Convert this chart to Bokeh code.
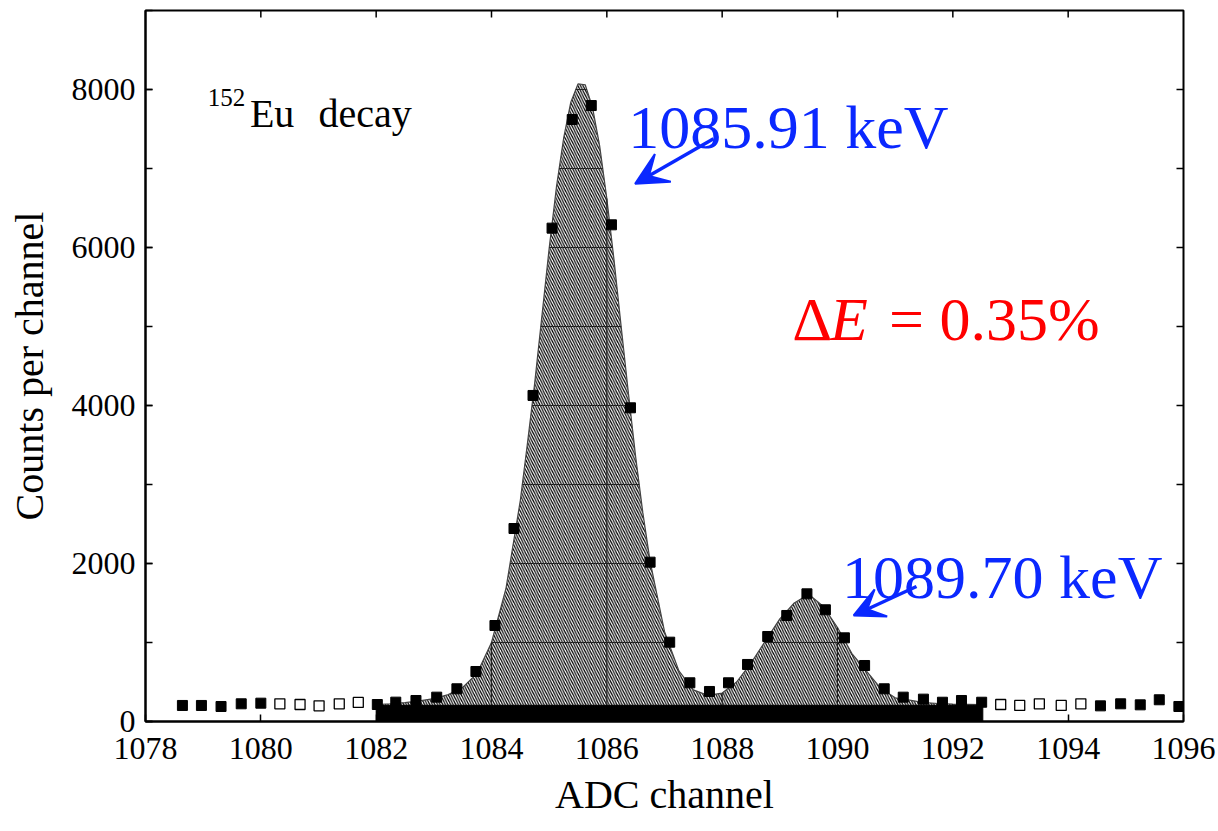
import numpy as np
from bokeh.plotting import figure
from bokeh.models import Range1d, SingleIntervalTicker, Label, Arrow, VeeHead
from bokeh.embed import file_html
from bokeh.resources import INLINE

# ---------------- data ----------------
x_limits = [1078, 1096]
y_limits = [0, 9000]

filled_x = [1078.64, 1078.97, 1079.31, 1079.66, 1080.00, 1082.02, 1082.34, 1082.69, 1083.05,
            1083.40, 1083.73, 1084.06, 1084.39, 1084.72, 1085.05, 1085.40, 1085.73, 1086.08,
            1086.41, 1086.75, 1087.09, 1087.44, 1087.78, 1088.11, 1088.44, 1088.79, 1089.12,
            1089.47, 1089.79, 1090.12, 1090.47, 1090.81, 1091.14, 1091.49, 1091.82, 1092.15,
            1092.50, 1094.56, 1094.91, 1095.25, 1095.58, 1095.92]
filled_y = [203, 203, 190, 224, 232, 215, 245, 266, 308,
            414, 633, 1215, 2443, 4127, 6245, 7620, 7797, 6287,
            3971, 2017, 1004, 490, 380, 490, 722, 1076, 1342,
            1616, 1414, 1059, 709, 414, 308, 283, 244, 266,
            244, 198, 224, 211, 275, 190]

open_x = [1080.33, 1080.68, 1081.01, 1081.36, 1081.69, 1092.83, 1093.16, 1093.50, 1093.88, 1094.22]
open_y = [224, 215, 198, 224, 241, 215, 203, 224, 203, 224]

fit_x = [1082.0, 1082.25, 1082.5, 1082.75, 1083.0, 1083.25, 1083.5, 1083.75,
         1084.0, 1084.25, 1084.5, 1084.625, 1084.75, 1084.875,
         1085.0, 1085.125, 1085.25, 1085.375, 1085.5, 1085.625, 1085.75, 1085.875,
         1086.0, 1086.125, 1086.25, 1086.375, 1086.5, 1086.625, 1086.75,
         1087.0, 1087.25, 1087.5, 1087.75, 1088.0, 1088.25, 1088.5, 1088.75,
         1089.0, 1089.25, 1089.5, 1089.75, 1090.0, 1090.25, 1090.5, 1090.75,
         1091.0, 1091.25, 1091.5, 1091.75, 1092.0, 1092.25, 1092.5]
fit_y = [215, 225, 240, 260, 290, 340, 430, 610,
         1000, 1680, 2800, 3530, 4290, 5140,
         5990, 6760, 7380, 7840, 8070, 8060, 7780, 7290,
         6620, 5840, 4990, 4150, 3350, 2640, 2030,
         1140, 640, 400, 330, 360, 500, 740, 1020,
         1300, 1500, 1610, 1460, 1190, 860, 640, 420,
         300, 270, 240, 228, 220, 218, 215]

band_x = [1082.0, 1092.52]
band_top = 205

x_tick_values = [1078, 1080, 1082, 1084, 1086, 1088, 1090, 1092, 1094, 1096]
y_tick_values = [0, 1000, 2000, 3000, 4000, 5000, 6000, 7000, 8000, 9000]
grid_x = [1084, 1086, 1088, 1090, 1092]
grid_levels = [1000, 2000, 3000, 4000, 5000, 6000, 7000, 8000]

x_title = "ADC channel"
y_title = "Counts per channel"
peak1_label = "1085.91 keV"
peak2_label = "1089.70 keV"

FONT = "Liberation Serif"
BLUE = "#0a28ff"
RED = "#ff0000"

FRAME_W, FRAME_H = 1038, 711

p = figure(frame_width=FRAME_W, frame_height=FRAME_H,
           x_range=Range1d(*x_limits), y_range=Range1d(*y_limits),
           output_backend="svg", toolbar_location=None,
           min_border_left=145, min_border_right=35, min_border_top=10, min_border_bottom=110)
p.grid.visible = False
p.background_fill_color = "white"
p.border_fill_color = "white"
p.outline_line_color = "black"
p.outline_line_width = 2

for ax in (p.xaxis[0], p.yaxis[0]):
    ax.axis_line_width = 2
    ax.axis_line_color = "black"
    ax.major_tick_in = 7
    ax.major_tick_out = 0
    ax.minor_tick_in = 7
    ax.minor_tick_out = 0
    ax.major_tick_line_width = 1.5
    ax.minor_tick_line_width = 1.5
    ax.major_label_text_font = FONT
    ax.major_label_text_font_size = "32px"
    ax.major_label_text_color = "black"
    ax.axis_label_text_font = FONT
    ax.axis_label_text_font_size = "40px"
    ax.axis_label_text_font_style = "normal"
    ax.axis_label_text_color = "black"

p.xaxis[0].ticker = SingleIntervalTicker(interval=2, num_minor_ticks=0)
p.yaxis[0].ticker = SingleIntervalTicker(interval=2000, num_minor_ticks=2)
p.xaxis[0].major_label_standoff = 16
p.yaxis[0].major_label_standoff = 10
p.xaxis[0].axis_label = x_title
p.yaxis[0].axis_label = y_title
p.xaxis[0].axis_label_standoff = 10
p.yaxis[0].axis_label_standoff = 17

# hatched fit area
p.varea(x=fit_x, y1=0, y2=fit_y, fill_color=None, fill_alpha=0,
        hatch_pattern="left_diagonal_line", hatch_color="black",
        hatch_scale=5.2, hatch_weight=1.2, hatch_alpha=1.0)
p.line(fit_x, fit_y, line_color="#444444", line_width=1.2)

# grid lines visible inside the filled area only
fx = np.array(fit_x, dtype=float)
fy = np.array(fit_y, dtype=float)
hx0, hx1, hy = [], [], []
for lev in grid_levels:
    above = fy > lev
    start = None
    for k in range(len(fx)):
        if above[k] and start is None:
            if k == 0:
                start = fx[0]
            else:
                t = (lev - fy[k - 1]) / (fy[k] - fy[k - 1])
                start = fx[k - 1] + t * (fx[k] - fx[k - 1])
        elif (not above[k]) and start is not None:
            t = (lev - fy[k - 1]) / (fy[k] - fy[k - 1])
            end = fx[k - 1] + t * (fx[k] - fx[k - 1])
            hx0.append(start); hx1.append(end); hy.append(lev)
            start = None
p.segment(x0=hx0, y0=hy, x1=hx1, y1=hy, line_color="#222222", line_width=1.2)
vy1 = [float(np.interp(g, fx, fy)) for g in grid_x]
p.segment(x0=grid_x, y0=[band_top] * len(grid_x), x1=grid_x, y1=vy1,
          line_color="#222222", line_width=1.2)

# dense baseline band
p.quad(left=[band_x[0]], right=[band_x[1]], bottom=[0], top=[band_top],
       fill_color="black", line_color="black")

# data points
p.scatter(open_x, open_y, marker="square", size=10, fill_color="white",
          line_color="black", line_width=1.3)
p.scatter(filled_x, filled_y, marker="square", size=10, fill_color="black",
          line_color="black", line_width=1)

# top and right tick marks (inside)
tick_dy = 7 * (y_limits[1] - y_limits[0]) / FRAME_H
tick_dx = 7 * (x_limits[1] - x_limits[0]) / FRAME_W
top_ticks = [t for t in x_tick_values if x_limits[0] < t < x_limits[1]]
right_ticks = [t for t in y_tick_values if y_limits[0] < t < y_limits[1]]
p.segment(x0=top_ticks, y0=[y_limits[1]] * len(top_ticks), x1=top_ticks,
          y1=[y_limits[1] - tick_dy] * len(top_ticks), line_color="black", line_width=1.5)
p.segment(x0=[x_limits[1]] * len(right_ticks), y0=right_ticks,
          x1=[x_limits[1] - tick_dx] * len(right_ticks), y1=right_ticks,
          line_color="black", line_width=1.5)

# isotope label
p.add_layout(Label(x=1079.08, y=7899, text="152", text_font=FONT, text_font_size="25px",
                   text_baseline="alphabetic", text_color="black"))
p.add_layout(Label(x=1079.81, y=7696, text="Eu", text_font=FONT, text_font_size="40px",
                   text_baseline="alphabetic", text_color="black"))
p.add_layout(Label(x=1081.00, y=7696, text="decay", text_font=FONT, text_font_size="40px",
                   text_baseline="alphabetic", text_color="black"))

# peak annotations
p.add_layout(Label(x=1086.37, y=7523, text=peak1_label, text_font=FONT, text_font_size="62px",
                   text_baseline="alphabetic", text_color=BLUE))
p.add_layout(Label(x=1090.08, y=1827, text=peak2_label, text_font=FONT, text_font_size="62px",
                   text_baseline="alphabetic", text_color=BLUE))
p.add_layout(Arrow(end=VeeHead(size=32, fill_color=BLUE, line_color=BLUE, line_width=2),
                   x_start=1087.85, y_start=7376, x_end=1086.49, y_end=6806,
                   line_color=BLUE, line_width=3.5))
p.add_layout(Arrow(end=VeeHead(size=30, fill_color=BLUE, line_color=BLUE, line_width=2),
                   x_start=1091.37, y_start=1709, x_end=1090.28, y_end=1342,
                   line_color=BLUE, line_width=3.5))

# resolution
p.add_layout(Label(x=1089.214, y=5097, text="\u0394", text_font=FONT, text_font_size="62px",
                   text_baseline="alphabetic", text_color=RED))
p.add_layout(Label(x=1089.872, y=5097, text="E", text_font=FONT, text_font_size="62px",
                   text_font_style="italic", text_baseline="alphabetic", text_color=RED))
p.add_layout(Label(x=1090.894, y=5097, text="= 0.35%", text_font=FONT, text_font_size="62px",
                   text_baseline="alphabetic", text_color=RED))

open("out.html", "w").write(file_html(p, INLINE))
